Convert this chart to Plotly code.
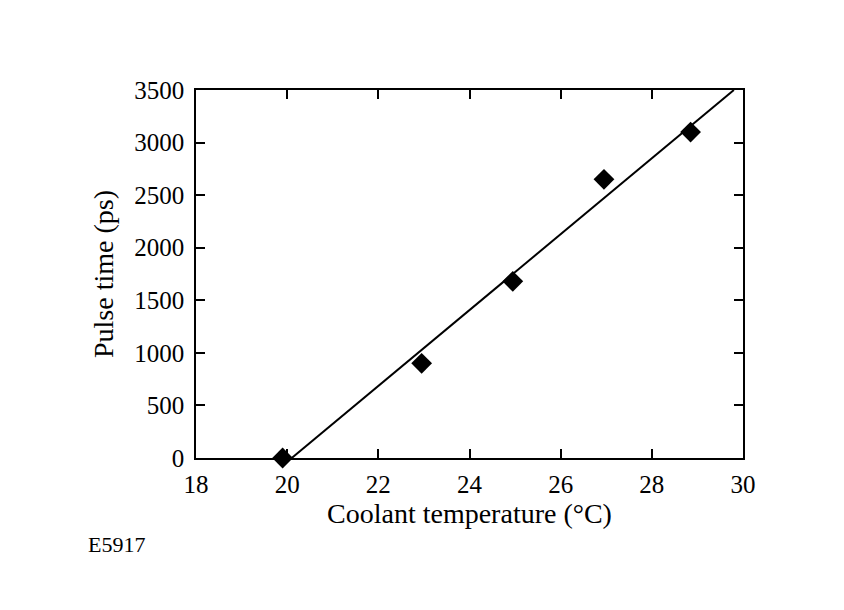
import plotly.graph_objects as go

temps = [19.9, 22.95, 24.95, 26.95, 28.85]
pulse = [0, 900, 1680, 2650, 3100]
fit_t = [20.1, 29.8]
fit_p = [0, 3500]
x_ticks = [18, 20, 22, 24, 26, 28, 30]
y_ticks = [0, 500, 1000, 1500, 2000, 2500, 3000, 3500]

FONT = "Liberation Serif, Times New Roman, serif"

fig = go.Figure()
fig.add_trace(go.Scatter(x=fit_t, y=fit_p, mode="lines",
                         line=dict(color="black", width=2), showlegend=False))
fig.add_trace(go.Scatter(x=temps, y=pulse, mode="markers",
                         marker=dict(symbol="diamond", size=16, color="black"),
                         showlegend=False, cliponaxis=False))

axis_common = dict(showline=True, linecolor="black", linewidth=1.5, mirror="ticks",
                   ticks="inside", ticklen=9, tickwidth=1.5, tickcolor="black",
                   showgrid=False, zeroline=False,
                   tickfont=dict(family=FONT, size=25, color="black"))

fig.update_xaxes(range=[18, 30], tickvals=x_ticks, ticklabelstandoff=3,
                 title=dict(text="Coolant temperature (°C)",
                            font=dict(family=FONT, size=28, color="black"), standoff=4),
                 **axis_common)
fig.update_yaxes(range=[0, 3500], tickvals=y_ticks, ticklabelstandoff=5,
                 title=dict(text="Pulse time (ps)",
                            font=dict(family=FONT, size=28, color="black"), standoff=12),
                 **axis_common)

fig.add_annotation(text="E5917", xref="paper", yref="paper", x=-0.201, y=-0.236,
                   xanchor="left", yanchor="middle", showarrow=False,
                   font=dict(family=FONT, size=22, color="black"))

fig.update_layout(width=844, height=610, plot_bgcolor="white", paper_bgcolor="white",
                  margin=dict(l=188, r=109, t=82, b=160))

fig.write_html("out.html")
